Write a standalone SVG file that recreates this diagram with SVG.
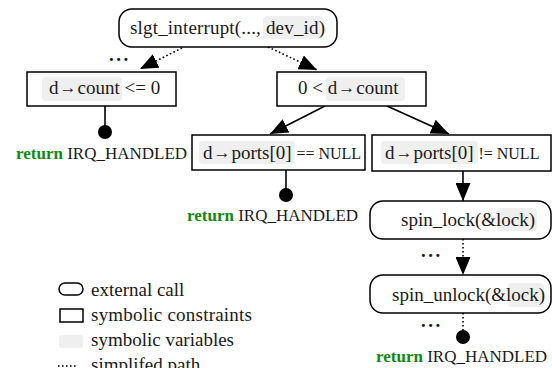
<svg xmlns="http://www.w3.org/2000/svg" width="552" height="368" viewBox="0 0 552 368">
  <style>
    text { font-family: "Liberation Serif", "Times New Roman", serif; fill: #1a1a1a; }
    .t { font-size: 19px; }
    .s { font-size: 16px; }
    .arw { font-size: 17px; }
    .call { fill: #fff; stroke: #000; stroke-width: 1.5; }
    .cons { fill: #fff; stroke: #000; stroke-width: 1.5; }
    .var { fill: #efefef; stroke: none; }
    .edge { fill: none; stroke: #000; stroke-width: 1.6; }
    .dot { fill: none; stroke: #000; stroke-width: 1.6; stroke-dasharray: 1.6 2.4; }
    .end { fill: #000; }
    .ret { font-size: 17px; }
    .kw { font-weight: bold; fill: #128a12; }
    .ell { font-size: 19px; font-weight: bold; letter-spacing: 2.5px; }
  </style>
  <defs>
    <marker id="head" markerUnits="userSpaceOnUse" markerWidth="19" markerHeight="15" refX="18" refY="7.5" orient="auto">
      <path d="M0,0 L18,7.5 L0,15 z" fill="#000"/>
    </marker>
  </defs>

  <!-- connectors -->
  <g id="edges">
    <path class="dot" d="M182,48 L140,69" marker-end="url(#head)"/>
    <path class="dot" d="M268,47 L317,70" marker-end="url(#head)"/>
    <path class="edge" d="M325,106 L270,134" marker-end="url(#head)"/>
    <path class="edge" d="M387,106 L449,134" marker-end="url(#head)"/>
    <path class="edge" d="M463,171 L463,201" marker-end="url(#head)"/>
    <path class="dot" d="M463,239 L463,275" marker-end="url(#head)"/>
    <path class="edge" d="M105,106 L105,132"/>
    <path class="edge" d="M286,170 L286,195"/>
    <path class="dot" d="M463,313 L463,337"/>
    <text class="ell" x="109" y="61">...</text>
    <text class="ell" x="421" y="257">...</text>
    <text class="ell" x="421" y="327">...</text>
  </g>

  <!-- entry call -->
  <g id="n-entry">
    <rect class="call" x="119" y="9" width="218" height="38" rx="13"/>
    <rect class="var" x="263" y="16" width="60" height="23" rx="4"/>
    <text class="t" x="130" y="34" textLength="195">slgt_interrupt(..., dev_id)</text>
  </g>

  <!-- count <= 0 -->
  <g id="n-count-le">
    <rect class="cons" x="27" y="72" width="149" height="34"/>
    <rect class="var" x="42" y="77" width="80" height="24" rx="4"/>
    <text class="t" x="49" y="94">d<tspan class="arw" dx="1" dy="-1">→</tspan><tspan dx="1" dy="1">count &lt;= 0</tspan></text>
  </g>

  <!-- 0 < count -->
  <g id="n-count-gt">
    <rect class="cons" x="277" y="72" width="149" height="34"/>
    <rect class="var" x="326" y="77" width="79" height="24" rx="4"/>
    <text class="t" x="298" y="94">0 &lt; d<tspan class="arw" dx="1" dy="-1">→</tspan><tspan dx="1" dy="1">count</tspan></text>
  </g>

  <!-- ports[0] == NULL -->
  <g id="n-ports-null">
    <rect class="cons" x="192" y="135" width="173" height="35"/>
    <rect class="var" x="199" y="141" width="96" height="23" rx="4"/>
    <text class="t" x="203" y="159">d<tspan class="arw" dx="1" dy="-1">→</tspan><tspan dx="1" dy="1">ports[0] </tspan><tspan class="s">== NULL</tspan></text>
  </g>

  <!-- ports[0] != NULL -->
  <g id="n-ports-set">
    <rect class="cons" x="372" y="135" width="179" height="36"/>
    <rect class="var" x="381" y="141" width="97" height="23" rx="4"/>
    <text class="t" x="385" y="159">d<tspan class="arw" dx="1" dy="-1">→</tspan><tspan dx="1" dy="1">ports[0] </tspan><tspan class="s">!= NULL</tspan></text>
  </g>

  <!-- spin_lock -->
  <g id="n-lock">
    <rect class="call" x="370" y="201" width="181" height="38" rx="13"/>
    <rect class="var" x="497" y="208" width="40" height="23" rx="4"/>
    <text class="t" x="401" y="226">spin_lock(&amp;lock)</text>
  </g>

  <!-- spin_unlock -->
  <g id="n-unlock">
    <rect class="call" x="370" y="275" width="181" height="38" rx="13"/>
    <rect class="var" x="508" y="283" width="36" height="24" rx="4"/>
    <text class="t" x="392" y="301">spin_unlock(&amp;lock)</text>
  </g>

  <!-- returns -->
  <g id="n-ret1">
    <circle class="end" cx="105" cy="132" r="7"/>
    <text class="ret" x="16" y="159"><tspan class="kw">return</tspan> IRQ_HANDLED</text>
  </g>
  <g id="n-ret2">
    <circle class="end" cx="286" cy="195" r="7"/>
    <text class="ret" x="187" y="221"><tspan class="kw">return</tspan> IRQ_HANDLED</text>
  </g>
  <g id="n-ret3">
    <circle class="end" cx="463" cy="337" r="7"/>
    <text class="ret" x="376" y="362"><tspan class="kw">return</tspan> IRQ_HANDLED</text>
  </g>

  <!-- legend -->
  <g id="legend">
    <rect class="call" x="59" y="283" width="24" height="12" rx="6"/>
    <text class="t" x="91" y="296">external call</text>
    <rect class="cons" x="60" y="309" width="23" height="13"/>
    <text class="t" x="91" y="321" textLength="161">symbolic constraints</text>
    <rect class="var" x="59" y="335" width="24" height="13" rx="3"/>
    <text class="t" x="91" y="346">symbolic variables</text>
    <line class="dot" x1="58" y1="366" x2="76" y2="366"/>
    <text class="t" x="91" y="371">simplifed path</text>
  </g>
</svg>
